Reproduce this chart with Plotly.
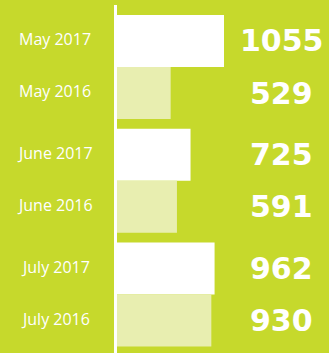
import plotly.graph_objects as go

months = ["May", "June", "July"]
visits_2017 = [1055, 725, 962]
visits_2016 = [529, 591, 930]
label_2017 = ["May 2017", "June 2017", "July 2017"]
label_2016 = ["May 2016", "June 2016", "July 2016"]

bg = "#c6d92c"
light = "#e8eeb0"
bargap = 0.085
half = (1 - bargap) / 4  # offset of each bar centre from its month centre

fig = go.Figure()
fig.add_trace(go.Bar(y=months, x=visits_2017, orientation="h",
                     marker=dict(color="white", line=dict(width=0)),
                     name="2017", hoverinfo="skip"))
fig.add_trace(go.Bar(y=months, x=visits_2016, orientation="h",
                     marker=dict(color=light, line=dict(width=0)),
                     name="2016", hoverinfo="skip"))

annotations = []
for i in range(len(months)):
    for lab, val, dy in ((label_2017[i], visits_2017[i], -half),
                         (label_2016[i], visits_2016[i], half)):
        annotations.append(dict(
            x=-0.292, xref="paper", y=i + dy, yref="y", yshift=2,
            text=lab, showarrow=False, xanchor="center", yanchor="middle",
            font=dict(family="Open Sans", size=16, color="white")))
        annotations.append(dict(
            x=0.778, xref="paper", y=i + dy, yref="y",
            text=f"{val}", showarrow=False, xanchor="center", yanchor="middle",
            font=dict(family="DejaVu Sans", size=30, color="white", weight="bold")))

fig.update_layout(
    width=329, height=353,
    margin=dict(l=117, r=0, t=5, b=0),
    paper_bgcolor=bg, plot_bgcolor=bg,
    barmode="group", bargap=bargap, bargroupgap=0,
    showlegend=False,
    annotations=annotations,
    xaxis=dict(range=[0, 2090], visible=False, showgrid=False, zeroline=False),
    yaxis=dict(type="category", range=[2.514, -0.545], showticklabels=False,
               showgrid=False, zeroline=False, showline=True,
               linecolor="white", linewidth=3, ticks=""),
)

fig.write_html("out.html")
